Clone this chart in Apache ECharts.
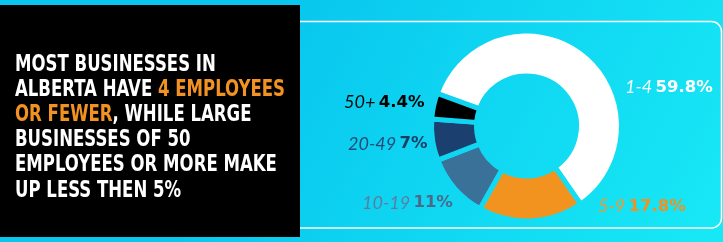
<!DOCTYPE html>
<html>
<head>
<meta charset="utf-8">
<script src="https://cdn.jsdelivr.net/npm/echarts@6/dist/echarts.min.js"></script>
<style>
html,body{margin:0;padding:0;background:#0bc9ee;}
#chart{width:723px;height:242px;}
</style>
</head>
<body>
<div id="chart"></div>
<script>
// ---- data ----
const categories = ['1-4', '5-9', '10-19', '20-49', '50+'];
const shares = [59.8, 17.8, 11, 7, 4.4];
const titleLines = [
  [['w', 'MOST BUSINESSES IN']],
  [['w', 'ALBERTA HAVE '], ['o', '4 EMPLOYEES']],
  [['o', 'OR FEWER'], ['w', ', WHILE LARGE']],
  [['w', 'BUSINESSES OF 50']],
  [['w', 'EMPLOYEES OR MORE MAKE']],
  [['w', 'UP LESS THEN 5%']]
];

// ---- styles / layout ----
const sliceColors = ['#ffffff', '#f29320', '#3a7199', '#1b3f6e', '#000000'];
const catColors = ['rgba(255,255,255,0.95)', '#f39a2a', '#5b7ea0', '#1f4a78', '#0a0a0a'];
const valColors = ['#ffffff', '#f29020', '#4a6a8c', '#1b3d66', '#000000'];
const labelAnchors = [[625, 87.5], [598, 206.5], [362, 203], [348, 144], [344, 102.5]];
const TITLE_FONT = "'Liberation Sans Narrow','DejaVu Sans Condensed','DejaVu Sans',sans-serif";
const TITLE_SIZE = 23.5;
const TITLE_WIDTH = 270;

const bgGradient = {
  type: 'linear', x: 280, y: 0, x2: 723, y2: 242, global: true,
  colorStops: [{ offset: 0, color: '#08c6ee' }, { offset: 1, color: '#18e9f6' }]
};

// measure widest title line to compress font horizontally
const mc = document.createElement('canvas').getContext('2d');
mc.font = 'bold ' + TITLE_SIZE + 'px ' + TITLE_FONT;
const w2 = mc.measureText(titleLines[1].map(t => t[1]).join('')).width;
const titleScale = TITLE_WIDTH / w2;

const titleText = titleLines.map(line => line.map(t => '{' + t[0] + '|' + t[1] + '}').join('')).join('\n');

const rich = {};
categories.forEach((c, i) => {
  rich['c' + i] = { fontFamily: 'Lato', fontStyle: 'italic', fontWeight: 'normal', fontSize: 18, color: catColors[i] };
  rich['v' + i] = { fontFamily: 'DejaVu Sans', fontWeight: 'bold', fontSize: 16.5, color: valColors[i] };
});

const chart = echarts.init(document.getElementById('chart'), null, { renderer: 'canvas' });
chart.setOption({
  animation: false,
  graphic: [
    { type: 'rect', z: -10, shape: { x: 0, y: 0, width: 723, height: 242 }, style: { fill: bgGradient } },
    { type: 'rect', z: -5, shape: { x: 250, y: 21.5, width: 471.5, height: 206.5, r: 10 },
      style: { fill: 'none', stroke: '#ffffff', lineWidth: 1.5 } },
    { type: 'rect', z: -4, shape: { x: 0, y: 5, width: 300, height: 232 }, style: { fill: '#000000' } },
    { type: 'text', z: -3, x: 15, y: 127.5, scaleX: titleScale,
      style: {
        text: titleText, x: 0, y: 0, align: 'left', verticalAlign: 'middle',
        lineHeight: 25.2, fontFamily: TITLE_FONT, fontWeight: 'bold', fontSize: TITLE_SIZE, fill: '#ffffff',
        rich: {
          w: { fontFamily: TITLE_FONT, fontWeight: 'bold', fontSize: TITLE_SIZE, fill: '#ffffff', lineHeight: 25.2 },
          o: { fontFamily: TITLE_FONT, fontWeight: 'bold', fontSize: TITLE_SIZE, fill: '#f29222', lineHeight: 25.2 }
        }
      } }
  ],
  series: [{
    type: 'pie',
    center: [526.5, 126],
    radius: [50, 95],
    startAngle: 160,
    clockwise: true,
    avoidLabelOverlap: false,
    silent: true,
    itemStyle: { borderColor: bgGradient, borderWidth: 5, borderJoin: 'round' },
    label: {
      show: true, position: 'outside',
      formatter: p => '{c' + p.dataIndex + '|' + p.name + '} {v' + p.dataIndex + '|' + p.value + '%}',
      rich: rich
    },
    labelLine: { show: false },
    labelLayout: p => ({ x: labelAnchors[p.dataIndex][0], y: labelAnchors[p.dataIndex][1], align: 'left', verticalAlign: 'middle' }),
    data: categories.map((c, i) => ({ name: c, value: shares[i], itemStyle: { color: sliceColors[i] } }))
  }]
});
</script>
</body>
</html>
